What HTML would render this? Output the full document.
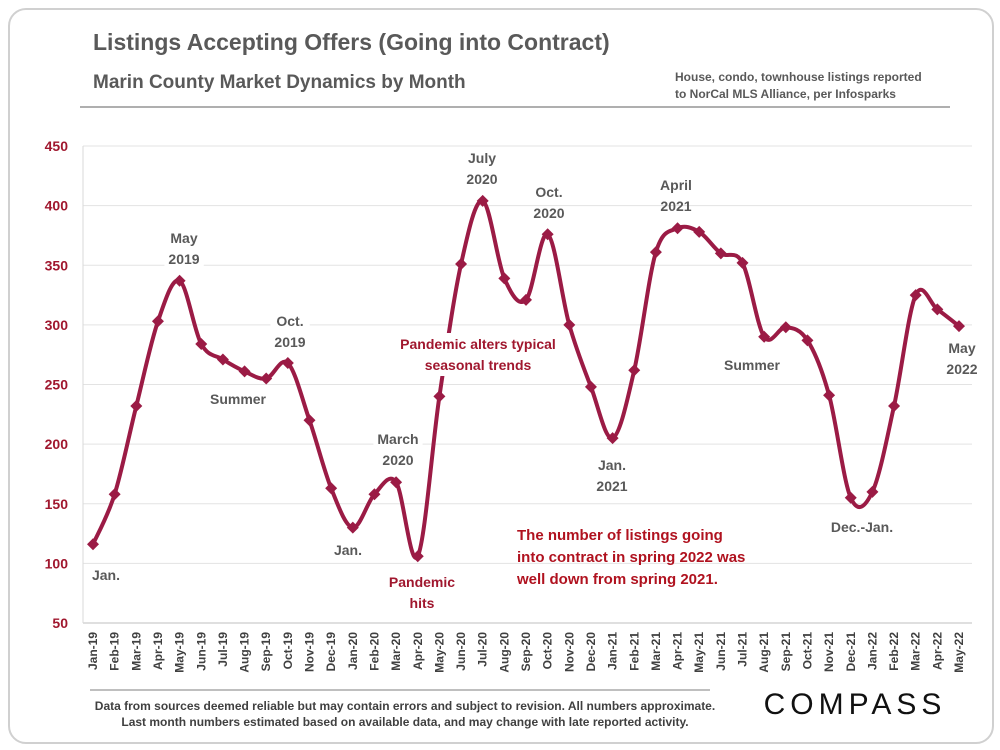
<!DOCTYPE html>
<html><head><meta charset="utf-8"><style>
body{margin:0;background:#fff;width:1000px;height:750px;overflow:hidden;font-family:"Liberation Sans",sans-serif}
.card{position:absolute;left:8px;top:8px;width:982px;height:732px;border:2px solid #d0d0d0;border-radius:18px}
</style></head><body>
<div class="card"></div>
<svg id="c" width="1000" height="750" style="position:absolute;left:0;top:0">
<text x="93" y="50" font-size="23" font-weight="bold" fill="#595959">Listings Accepting Offers (Going into Contract)</text>
<text x="93" y="88" font-size="19" font-weight="bold" fill="#595959">Marin County Market Dynamics by Month</text>
<text x="675" y="81" font-size="12" font-weight="bold" fill="#595959">House, condo, townhouse listings reported</text>
<text x="675" y="98" font-size="12" font-weight="bold" fill="#595959">to NorCal MLS Alliance, per Infosparks</text>
<line x1="80" y1="107" x2="950" y2="107" stroke="#7f7f7f" stroke-width="1.2"/>
<g id="grid"></g><g id="xl"></g><g id="series"></g><g id="ann"></g>
<line x1="90" y1="690" x2="710" y2="690" stroke="#7f7f7f" stroke-width="1"/>
<text x="405" y="710" font-size="12" font-weight="bold" fill="#404040" text-anchor="middle">Data from sources deemed reliable but may contain errors and subject to revision. All numbers approximate.</text>
<text x="405" y="726" font-size="12" font-weight="bold" fill="#404040" text-anchor="middle">Last month numbers estimated based on available data, and may change with late reported activity.</text>
<text x="855" y="714" font-size="30" fill="#111" text-anchor="middle" letter-spacing="5">COMPASS</text>
</svg>
<script>
const categories=["Jan-19","Feb-19","Mar-19","Apr-19","May-19","Jun-19","Jul-19","Aug-19","Sep-19","Oct-19","Nov-19","Dec-19","Jan-20","Feb-20","Mar-20","Apr-20","May-20","Jun-20","Jul-20","Aug-20","Sep-20","Oct-20","Nov-20","Dec-20","Jan-21","Feb-21","Mar-21","Apr-21","May-21","Jun-21","Jul-21","Aug-21","Sep-21","Oct-21","Nov-21","Dec-21","Jan-22","Feb-22","Mar-22","Apr-22","May-22"];
const listings=[116,158,232,303,337,284,271,261,255,268,220,163,130,158,168,106,240,351,404,339,321,376,300,248,205,262,361,381,378,360,352,290,298,287,241,155,160,232,325,313,299];
const yTicks=[50,100,150,200,250,300,350,400,450];
const NS="http://www.w3.org/2000/svg";
const X0=93,X1=959,Y50=623,Y450=146,PL=83,PR=972;
const xs=i=>X0+(X1-X0)*i/(categories.length-1);
const ys=v=>Y50-(v-50)*(Y50-Y450)/400;
function mk(t,a,p){const e=document.createElementNS(NS,t);for(const k in a)e.setAttribute(k,a[k]);p.appendChild(e);return e;}
const grid=document.getElementById('grid');
yTicks.forEach(v=>{
 const l=mk('line',{x1:PL,x2:PR,y1:ys(v),y2:ys(v),stroke:v===50?'#bfbfbf':'#e3e3e3','stroke-width':1},grid);
 
 
 const t=mk('text',{x:68,y:ys(v)+5,'font-size':14,'font-weight':'bold',fill:'#a0172e','text-anchor':'end'},grid);
 t.textContent=v;
 
 
});
const ax=mk('line',{x1:PL,x2:PL,y1:Y450,y2:Y50,stroke:'#d9d9d9','stroke-width':1},grid);


const xl=document.getElementById('xl');
categories.forEach((c,i)=>{
 const t=mk('text',{transform:`translate(${xs(i)+4},632) rotate(-90)`,'font-size':12,'font-weight':'bold',fill:'#404040','text-anchor':'end'},xl);
 t.textContent=c;
 
 
});
const pts=listings.map((v,i)=>[xs(i),ys(v)]);
let d=`M${pts[0][0]},${pts[0][1]}`;
for(let i=0;i<pts.length-1;i++){
 const p0=pts[Math.max(0,i-1)],p1=pts[i],p2=pts[i+1],p3=pts[Math.min(pts.length-1,i+2)];
 const k=1/6;
 d+=` C${p1[0]+(p2[0]-p0[0])*k},${p1[1]+(p2[1]-p0[1])*k} ${p2[0]-(p3[0]-p1[0])*k},${p2[1]-(p3[1]-p1[1])*k} ${p2[0]},${p2[1]}`;
}
const s=document.getElementById('series');
const line=mk('path',{d:d,fill:'none',stroke:'#9b1b45','stroke-width':4},s);


pts.forEach((p,i)=>{
 const m=mk('path',{d:`M${p[0]},${p[1]-6}L${p[0]+6},${p[1]}L${p[0]},${p[1]+6}L${p[0]-6},${p[1]}Z`,fill:'#9b1b45'},s);
 
 
});
const ann=document.getElementById('ann');
const labels=[
 [["Jan."],106,580,'#595959',1],[["May","2019"],184,243,'#595959',1],[["Summer"],238,404,'#595959',1],
 [["Oct.","2019"],290,326,'#595959',1],[["Jan."],348,555,'#595959',1],[["March","2020"],398,444,'#595959',1],
 [["Pandemic","hits"],422,587,'#a0172e',1],[["Pandemic alters typical","seasonal trends"],478,349,'#a0172e',1],
 [["July","2020"],482,163,'#595959',0],[["Oct.","2020"],549,197,'#595959',0],[["Jan.","2021"],612,470,'#595959',1],
 [["April","2021"],676,190,'#595959',0],[["Summer"],752,370,'#595959',1],[["Dec.-Jan."],862,532,'#595959',1],
 [["May","2022"],962,353,'#595959',1]];
labels.forEach(([lines,x,y,col,bg])=>{
 const g=mk('g',{},ann);
 const t=mk('text',{x:x,y:y,'font-size':14,'font-weight':'bold',fill:col,'text-anchor':'middle'},g);
 lines.forEach((ln,j)=>{const ts=mk('tspan',{x:x,dy:j?21:0},t);ts.textContent=ln;});
 
 
 if(bg){const b=t.getBBox();const r=mk('rect',{x:b.x-4,y:b.y-3,width:b.width+8,height:b.height+6,fill:'#fff'},g);g.insertBefore(r,t);
 
 }
});
const n=mk('text',{x:517,y:540,'font-size':15,'font-weight':'bold',fill:'#b0121f'},ann);
["The  number  of  listings  going","into contract in spring 2022 was","well down from spring 2021."].forEach((ln,j)=>{const ts=mk('tspan',{x:517,dy:j?22:0},n);ts.textContent=ln;});


</script>
</body></html>
